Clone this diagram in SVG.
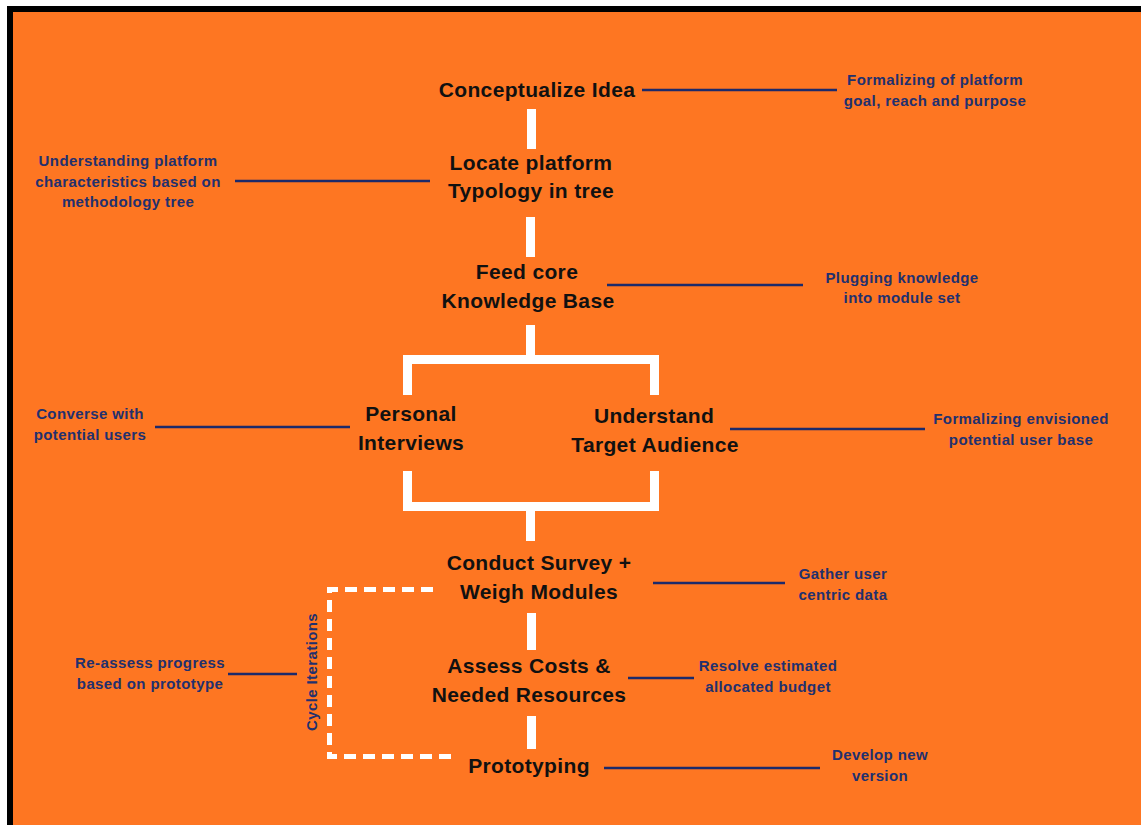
<svg xmlns="http://www.w3.org/2000/svg" width="1141" height="825" viewBox="0 0 1141 825">
<style>
.main{font-family:"Liberation Sans",Arial,sans-serif;font-weight:bold;font-size:21px;letter-spacing:0.35px;fill:#111;text-anchor:middle}
.note{font-family:"Liberation Sans",Arial,sans-serif;font-weight:bold;font-size:15px;letter-spacing:0.4px;fill:#22306e;text-anchor:middle}
.lead{stroke:#1c2a6b;stroke-width:2.6;fill:none}
.bar{fill:#fff}
.dash{stroke:#fff;stroke-width:5;fill:none;stroke-dasharray:12 7}
</style>
<rect x="0" y="0" width="1141" height="825" fill="#fff"/>
<rect x="7" y="6" width="1134" height="819" fill="#000"/>
<rect x="13" y="12" width="1128" height="813" fill="#fe7622"/>

<g id="connectors">
<rect class="bar" x="527" y="109" width="9" height="40"/>
<rect class="bar" x="526" y="217" width="9" height="40"/>
<rect class="bar" x="526" y="325" width="9" height="32"/>
<path class="bar" d="M403 355 H659 V395 H650 V364 H412 V395 H403 Z"/>
<path class="bar" d="M403 471 H412 V502 H650 V471 H659 V511 H403 Z"/>
<rect class="bar" x="526" y="509" width="9" height="32"/>
<rect class="bar" x="527" y="613" width="9" height="37"/>
<rect class="bar" x="527" y="716" width="9" height="33"/>
<path class="dash" d="M433 589.5 H329.5 V756.5 H458"/>
<line class="lead" x1="642" y1="90" x2="837" y2="90"/>
<line class="lead" x1="235" y1="181" x2="430" y2="181"/>
<line class="lead" x1="607" y1="285" x2="803" y2="285"/>
<line class="lead" x1="155" y1="427" x2="350" y2="427"/>
<line class="lead" x1="730" y1="429" x2="925" y2="429"/>
<line class="lead" x1="653" y1="583" x2="785" y2="583"/>
<line class="lead" x1="628" y1="678" x2="694" y2="678"/>
<line class="lead" x1="228" y1="674" x2="297" y2="674"/>
<line class="lead" x1="604" y1="768" x2="820" y2="768"/>
</g>

<g id="conceptualize"><text class="main" x="537" y="97">Conceptualize Idea</text></g>
<g id="locate"><text class="main" x="531" y="170">Locate platform</text><text class="main" x="531" y="198">Typology in tree</text></g>
<g id="feed"><text class="main" x="527" y="279">Feed core</text><text class="main" x="528" y="308">Knowledge Base</text></g>
<g id="personal"><text class="main" x="411" y="421">Personal</text><text class="main" x="411" y="450">Interviews</text></g>
<g id="understand"><text class="main" x="654" y="423">Understand</text><text class="main" x="655" y="452">Target Audience</text></g>
<g id="survey"><text class="main" x="539" y="570">Conduct Survey +</text><text class="main" x="539" y="599">Weigh Modules</text></g>
<g id="assess"><text class="main" x="529" y="673">Assess Costs &amp;</text><text class="main" x="529" y="702">Needed Resources</text></g>
<g id="prototyping"><text class="main" x="529" y="773">Prototyping</text></g>

<g id="note-conceptualize"><text class="note" x="935" y="85">Formalizing of platform</text><text class="note" x="935" y="106">goal, reach and purpose</text></g>
<g id="note-locate"><text class="note" x="128" y="166">Understanding platform</text><text class="note" x="128" y="187">characteristics based on</text><text class="note" x="128" y="207">methodology tree</text></g>
<g id="note-feed"><text class="note" x="902" y="283">Plugging knowledge</text><text class="note" x="902" y="303">into module set</text></g>
<g id="note-personal"><text class="note" x="90" y="419">Converse with</text><text class="note" x="90" y="440">potential users</text></g>
<g id="note-understand"><text class="note" x="1021" y="424">Formalizing envisioned</text><text class="note" x="1021" y="445">potential user base</text></g>
<g id="note-survey"><text class="note" x="843" y="579">Gather user</text><text class="note" x="843" y="600">centric data</text></g>
<g id="note-reassess"><text class="note" x="150" y="668">Re-assess progress</text><text class="note" x="150" y="689">based on prototype</text></g>
<g id="note-assess"><text class="note" x="768" y="671">Resolve estimated</text><text class="note" x="768" y="692">allocated budget</text></g>
<g id="note-prototyping"><text class="note" x="880" y="760">Develop new</text><text class="note" x="880" y="781">version</text></g>
<g id="cycle-label"><text class="note" font-size="14" transform="translate(317,672) rotate(-90)">Cycle Iterations</text></g>
</svg>
